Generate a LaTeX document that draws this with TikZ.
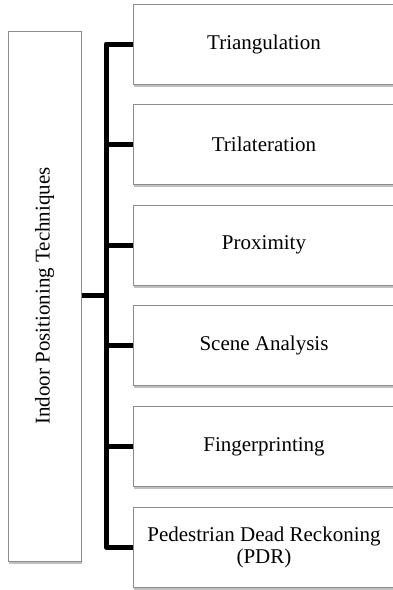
\documentclass[tikz,border=0pt]{standalone}
\usepackage{fontspec}
\setmainfont{Liberation Serif}
\usetikzlibrary{shadows}
\begin{document}
\begin{tikzpicture}[x=1pt,y=-1pt,
  box/.style={draw=black!45, line width=1pt, fill=white, rectangle, inner sep=0pt,
    drop shadow={shadow xshift=0.8pt, shadow yshift=-2.5pt, opacity=0.45, fill=black!55},
    font=\fontsize{21}{22}\selectfont, align=center},
  item/.style={box, minimum width=262pt, minimum height=80pt},
  link/.style={line width=5pt, line cap=butt, line join=round}]
\useasboundingbox (0,0) rectangle (393,590);
\clip (0,0) rectangle (393,590);

% root box with rotated title
\node[box, minimum width=73pt, minimum height=530pt] (root) at (44.5,296)
  {\rotatebox{90}{Indoor Positioning Techniques}};

% technique boxes
\node[item] (t1) at (264,44)    {Triangulation};
\node[item] (t2) at (264,144.6) {Trilateration};
\node[item] (t3) at (264,245.2) {Proximity};
\node[item] (t4) at (264,345.8) {Scene Analysis};
\node[item] (t5) at (264,446.4) {Fingerprinting};
\node[item] (t6) at (264,547)   {Pedestrian Dead Reckoning\\(PDR)};

% bracket connectors
\coordinate (spine) at (106,295);
\draw[link] (root.east |- spine) -- (spine);
\draw[link] (t1.west) -| (spine) |- (t6.west);
\foreach \n in {t2,t3,t4,t5}
  \draw[link] (spine |- \n.west) -- (\n.west);
\end{tikzpicture}
\end{document}
